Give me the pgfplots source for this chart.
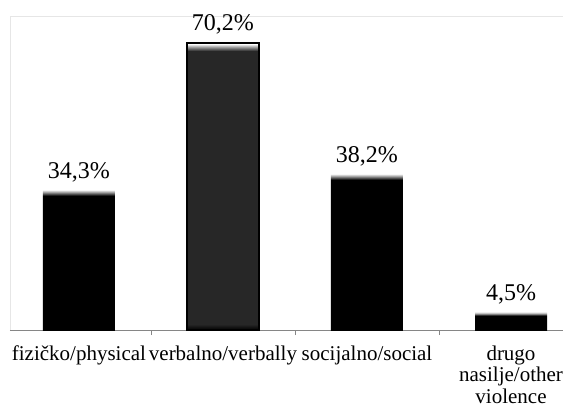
\documentclass[border=0pt]{standalone}
\usepackage{pgfplots}
\pgfplotsset{compat=1.18}
\usepackage{fontspec}
\setmainfont{Liberation Serif}

\definecolor{frame}{HTML}{E6E6E6}
\definecolor{base}{HTML}{868686}
\definecolor{midbar}{HTML}{272727}
\definecolor{hl}{HTML}{B0B0B0}

% bar box maps to 25bp..75bp; light strip at the top of each bar
\pgfdeclareverticalshading{barA}{100bp}{color(0bp)=(black); color(72.86bp)=(black); color(74.29bp)=(hl); color(75bp)=(white); color(100bp)=(white)}
\pgfdeclareverticalshading{barB}{100bp}{color(0bp)=(black); color(25bp)=(black); color(26bp)=(midbar); color(73.6bp)=(midbar); color(74.4bp)=(hl); color(74.8bp)=(white); color(100bp)=(white)}
\pgfdeclareverticalshading{barC}{100bp}{color(0bp)=(black); color(73.08bp)=(black); color(74.36bp)=(hl); color(75bp)=(white); color(100bp)=(white)}
\pgfdeclareverticalshading{barD}{100bp}{color(0bp)=(black); color(64bp)=(black); color(70bp)=(hl); color(75bp)=(white); color(100bp)=(white)}

\begin{document}
\begin{tikzpicture}
\useasboundingbox (0,0) rectangle (563pt,405pt);
\clip (0,0) rectangle (563pt,405pt);
\begin{axis}[
  scale only axis,
  anchor=south west,
  at={(10pt,75pt)},
  width=573pt, height=314pt,
  xmin=-0.479, xmax=3.5,
  ymin=0, ymax=76.8,
  ybar, bar width=72pt, bar shift=0pt,
  axis line style={draw=frame},
  ytick=\empty,
  xtick={0,1,2,3},
  xticklabels={fizičko/physical, verbalno/verbally, socijalno/social, {drugo\\nasilje/other\\violence}},
  major tick length=0pt,
  xticklabel style={font=\fontsize{21}{21.5}\selectfont, align=center, text depth=0pt, yshift=-12pt},
  extra x ticks={0.5,1.5,2.5},
  extra x tick labels={},
  extra x tick style={major tick length=5pt, tick pos=bottom, tick align=outside,
    major tick style={draw=base, line width=0.8pt}},
  extra y ticks={0},
  extra y tick labels={},
  extra y tick style={ymajorgrids=true, major grid style={draw=base, line width=0.9pt}},
  nodes near coords={\pgfmathprintnumber[use comma, fixed, fixed zerofill, precision=1, assume math mode=true]{\pgfplotspointmeta}\%},
  every node near coord/.append style={font=\fontsize{24}{25}\selectfont, anchor=south, inner sep=0pt, text depth=0pt, yshift=11pt, text=black},
]
\addplot[draw=none, shade, shading=barA] coordinates {(0,34.3)};
\addplot[draw=black, line width=2pt, shade, shading=barB] coordinates {(1,70.2)};
\addplot[draw=none, shade, shading=barC] coordinates {(2,38.2)};
\addplot[draw=none, shade, shading=barD] coordinates {(3,4.5)};
\end{axis}
\end{tikzpicture}
\end{document}
